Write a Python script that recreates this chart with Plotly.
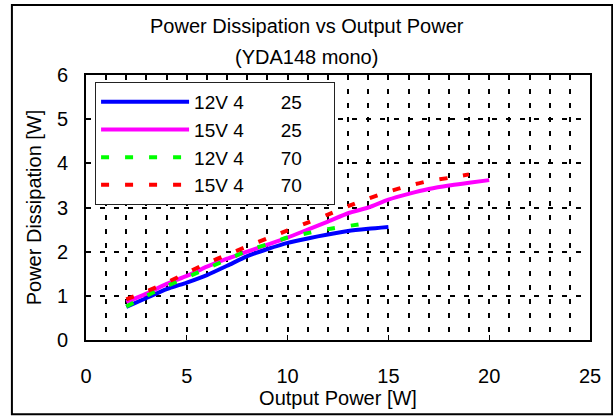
import plotly.graph_objects as go

# Output power [W] and power dissipation [W] for each supply / temperature condition
x_12v_25 = [2, 3, 4, 5, 6, 7, 8, 9, 10, 11, 12, 13, 14, 15]
y_12v_25 = [0.75, 0.95, 1.15, 1.30, 1.47, 1.68, 1.90, 2.06, 2.20, 2.30, 2.39, 2.47, 2.52, 2.56]

x_15v_25 = [2, 3, 4, 5, 6, 7, 8, 9, 10, 11, 12, 13, 14, 15, 16, 17, 18, 19, 20]
y_15v_25 = [0.86, 1.05, 1.27, 1.45, 1.66, 1.84, 2.00, 2.16, 2.32, 2.50, 2.68, 2.87, 3.00,
            3.18, 3.31, 3.42, 3.50, 3.56, 3.62]

x_12v_70 = [2, 3, 4, 5, 6, 7, 8, 9, 10, 11, 12, 13, 14]
y_12v_70 = [0.76, 1.00, 1.22, 1.42, 1.62, 1.82, 2.02, 2.17, 2.32, 2.42, 2.51, 2.58, 2.65]

x_15v_70 = [2, 3, 4, 5, 6, 7, 8, 9, 10, 11, 12, 13, 14, 15, 16, 17, 18, 19]
y_15v_70 = [0.92, 1.10, 1.30, 1.52, 1.74, 1.93, 2.12, 2.30, 2.48, 2.66, 2.84, 3.03, 3.20,
            3.36, 3.49, 3.60, 3.67, 3.75]

sp = "\u00a0"
names = ["12V 4" + sp * 7 + "25" + sp * 5, "15V 4" + sp * 7 + "25" + sp * 5,
         "12V 4" + sp * 7 + "70" + sp * 5, "15V 4" + sp * 7 + "70" + sp * 5]

x_ticks = [0, 5, 10, 15, 20, 25]
y_ticks = [0, 1, 2, 3, 4, 5, 6]

title_lines = ["Power Dissipation vs Output Power", "(YDA148 mono)"]

FONT = "Liberation Sans, Arial, sans-serif"
FS = 20
text_font = dict(family=FONT, size=FS, color="black")

fig = go.Figure()
series = [
    (x_12v_25, y_12v_25, "#0000FF", "solid"),
    (x_15v_25, y_15v_25, "#FF00FF", "solid"),
    (x_12v_70, y_12v_70, "#00FF00", "8px,16px"),
    (x_15v_70, y_15v_70, "#FF0000", "8px,16px"),
]
for i, (xs, ys, col, dash) in enumerate(series):
    fig.add_trace(go.Scatter(
        x=xs, y=ys, mode="lines", name=names[i],
        line=dict(color=col, width=4, dash=dash, shape="spline", smoothing=0.6),
    ))

grid_style = dict(gridcolor="black", gridwidth=2, griddash="5px,9px")

# two-line heading above the plot area
title_y = [1.185, 1.068]
annotations = [
    dict(text=t, xref="paper", yref="paper", x=0.4375, y=yy,
         xanchor="center", yanchor="middle", showarrow=False, font=text_font)
    for t, yy in zip(title_lines, title_y)
]

fig.update_layout(
    width=613, height=416,
    margin=dict(l=86, r=23, t=75, b=76),
    paper_bgcolor="white", plot_bgcolor="white",
    font=text_font,
    showlegend=True,
    legend=dict(
        x=0.018, y=0.974, xanchor="left", yanchor="top",
        bgcolor="white", bordercolor="#222222", borderwidth=1,
        font=dict(family=FONT, size=19, color="black"),
        itemwidth=88, traceorder="normal",
    ),
    xaxis=dict(
        range=[0, 25], tickvals=x_ticks, ticktext=[str(v) for v in x_ticks],
        showline=True, linecolor="black", linewidth=2, mirror=True,
        ticks="inside", ticklen=5, tickwidth=1, tickcolor="black",
        ticklabelstandoff=17,
        showgrid=True, **grid_style,
        minor=dict(dtick=1, showgrid=True, **grid_style),
        zeroline=False,
        title=dict(text="Output Power [W]", standoff=0, font=text_font),
    ),
    yaxis=dict(
        range=[0, 6], tickvals=y_ticks, ticktext=[str(v) for v in y_ticks],
        showline=True, linecolor="black", linewidth=2, mirror=True,
        ticks="inside", ticklen=5, tickwidth=1, tickcolor="black",
        ticklabelstandoff=12,
        showgrid=True, **grid_style,
        zeroline=False,
        title=dict(text="Power Dissipation [W]", standoff=10, font=text_font),
    ),
    annotations=annotations,
    shapes=[dict(
        type="rect", xref="paper", yref="paper",
        x0=-0.147, x1=1.044, y0=-0.28, y1=1.264,
        line=dict(color="black", width=2), fillcolor="rgba(0,0,0,0)", layer="above",
    )],
)

fig.write_html("out.html")
